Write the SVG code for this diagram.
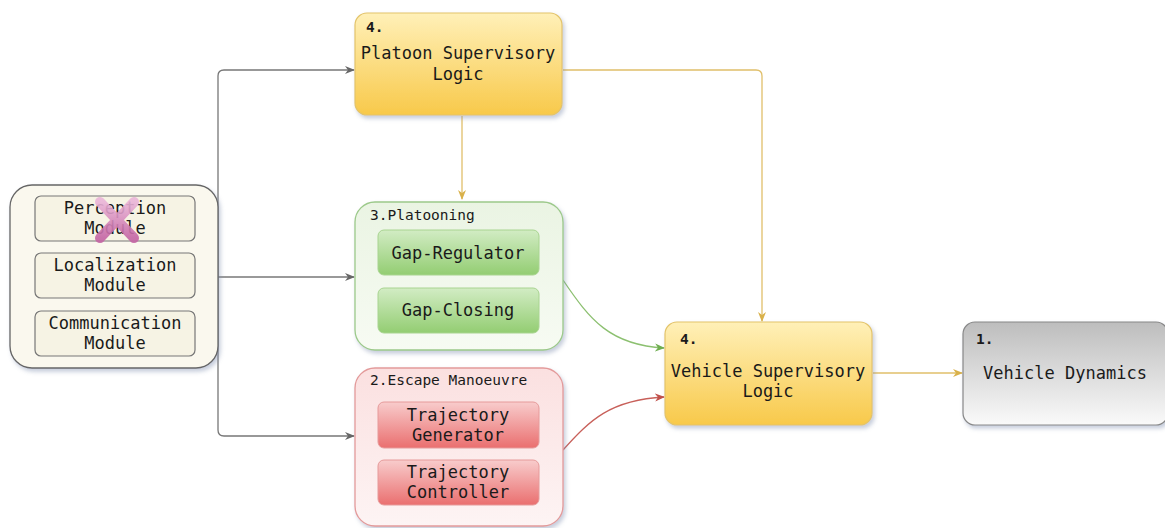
<svg xmlns="http://www.w3.org/2000/svg" width="1165" height="528" viewBox="0 0 1165 528">
<style>
text{font-family:"DejaVu Sans Mono","Liberation Mono",monospace;fill:#1a1a1a;}
.t{font-size:17px;text-anchor:middle;}
.s{font-size:14.5px;}
.c{fill:none;stroke-width:1.3;}
.g{stroke:#777;}
.y{stroke:#e0bf6a;}
.gr{stroke:#8cc070;}
.r{stroke:#c8605a;}
</style>
<defs>
<linearGradient id="yel" x1="0" y1="0" x2="0" y2="1"><stop offset="0" stop-color="#fff0b8"/><stop offset="1" stop-color="#f8c94a"/></linearGradient>
<linearGradient id="gray" x1="0" y1="0" x2="0" y2="1"><stop offset="0" stop-color="#bdbdbd"/><stop offset="1" stop-color="#fafafa"/></linearGradient>
<linearGradient id="grn" x1="0" y1="0" x2="0" y2="1"><stop offset="0" stop-color="#eaf4e3"/><stop offset="1" stop-color="#f7fbf3"/></linearGradient>
<linearGradient id="grnIn" x1="0" y1="0" x2="0" y2="1"><stop offset="0" stop-color="#d2ecc4"/><stop offset="1" stop-color="#93cd72"/></linearGradient>
<linearGradient id="red" x1="0" y1="0" x2="0" y2="1"><stop offset="0" stop-color="#fbe0e0"/><stop offset="1" stop-color="#fdf4f4"/></linearGradient>
<linearGradient id="redIn" x1="0" y1="0" x2="0" y2="1"><stop offset="0" stop-color="#f8cccc"/><stop offset="1" stop-color="#ea6f6f"/></linearGradient>
<linearGradient id="xg" x1="0" y1="0" x2="0" y2="1"><stop offset="0" stop-color="#eab4d8"/><stop offset="1" stop-color="#c464a4"/></linearGradient>
<filter id="sh" x="-10%" y="-10%" width="130%" height="130%"><feDropShadow dx="2" dy="3" stdDeviation="2" flood-color="#8090b0" flood-opacity="0.45"/></filter>
<marker id="ag" markerWidth="10" markerHeight="10" refX="9" refY="5" orient="auto" markerUnits="userSpaceOnUse"><path d="M0,1 L10,5 L0,9 L3,5 Z" fill="#666"/></marker>
<marker id="ay" markerWidth="10" markerHeight="10" refX="9" refY="5" orient="auto" markerUnits="userSpaceOnUse"><path d="M0,1 L10,5 L0,9 L3,5 Z" fill="#d9b14a"/></marker>
<marker id="agr" markerWidth="10" markerHeight="10" refX="9" refY="5" orient="auto" markerUnits="userSpaceOnUse"><path d="M0,1 L10,5 L0,9 L3,5 Z" fill="#6fae50"/></marker>
<marker id="ar" markerWidth="10" markerHeight="10" refX="9" refY="5" orient="auto" markerUnits="userSpaceOnUse"><path d="M0,1 L10,5 L0,9 L3,5 Z" fill="#c0504a"/></marker>
</defs>

<g id="connectors">
<path class="c g" d="M218,277 H354" marker-end="url(#ag)"/>
<path class="c g" d="M218,277 V76 Q218,70 224,70 H354" marker-end="url(#ag)"/>
<path class="c g" d="M218,277 V430 Q218,436 224,436 H354" marker-end="url(#ag)"/>
<path class="c y" d="M462,116 V199" marker-end="url(#ay)"/>
<path class="c y" d="M563,70 H756 Q762,70 762,76 V321" marker-end="url(#ay)"/>
<path class="c gr" d="M563,280 C590,320 610,345 664,348" marker-end="url(#agr)"/>
<path class="c r" d="M563,450 C590,420 610,400 664,397" marker-end="url(#ar)"/>
<path class="c y" d="M873,373 H962" marker-end="url(#ay)"/>
</g>

<g id="sensors">
<rect x="10" y="185" width="208" height="183" rx="22" fill="#faf8ee" stroke="#666" stroke-width="1.3" filter="url(#sh)"/>
<g id="perception">
<rect x="35" y="196" width="160" height="45" rx="6" fill="#f6f3e4" stroke="#777" stroke-width="1.2"/>
<text class="t" x="115" y="214">Perception</text>
<text class="t" x="115" y="234">Module</text>
<path d="M100,202 L134,238 M134,202 L100,238" stroke="url(#xg)" stroke-width="10" stroke-linecap="round" fill="none" opacity="0.9"/>
</g>
<g id="localization">
<rect x="35" y="253" width="160" height="45" rx="6" fill="#f6f3e4" stroke="#777" stroke-width="1.2"/>
<text class="t" x="115" y="271">Localization</text>
<text class="t" x="115" y="291">Module</text>
</g>
<g id="communication">
<rect x="35" y="311" width="160" height="45" rx="6" fill="#f6f3e4" stroke="#777" stroke-width="1.2"/>
<text class="t" x="115" y="329">Communication</text>
<text class="t" x="115" y="349">Module</text>
</g>
</g>

<g id="platoon-supervisory">
<rect x="355" y="13" width="207" height="102" rx="12" fill="url(#yel)" stroke="#e3c46a" stroke-width="1.2" filter="url(#sh)"/>
<text class="s" x="366" y="32" font-weight="bold">4.</text>
<text class="t" x="458" y="59">Platoon Supervisory</text>
<text class="t" x="458" y="80">Logic</text>
</g>

<g id="platooning">
<rect x="355" y="202" width="208" height="148" rx="20" fill="url(#grn)" stroke="#9cc98a" stroke-width="1.3" filter="url(#sh)"/>
<text class="s" x="370" y="220">3.Platooning</text>
<g id="gap-regulator">
<rect x="378" y="230" width="161" height="45" rx="6" fill="url(#grnIn)" stroke="#a8d490" stroke-width="1"/>
<text class="t" x="458" y="259">Gap-Regulator</text>
</g>
<g id="gap-closing">
<rect x="378" y="288" width="161" height="45" rx="6" fill="url(#grnIn)" stroke="#a8d490" stroke-width="1"/>
<text class="t" x="458" y="316">Gap-Closing</text>
</g>
</g>

<g id="escape">
<rect x="355" y="368" width="208" height="158" rx="20" fill="url(#red)" stroke="#e39a9a" stroke-width="1.3" filter="url(#sh)"/>
<text class="s" x="370" y="385">2.Escape Manoeuvre</text>
<g id="traj-gen">
<rect x="378" y="402" width="161" height="46" rx="6" fill="url(#redIn)" stroke="#e69a9a" stroke-width="1"/>
<text class="t" x="458" y="421">Trajectory</text>
<text class="t" x="458" y="441">Generator</text>
</g>
<g id="traj-ctrl">
<rect x="378" y="460" width="161" height="45" rx="6" fill="url(#redIn)" stroke="#e69a9a" stroke-width="1"/>
<text class="t" x="458" y="478">Trajectory</text>
<text class="t" x="458" y="498">Controller</text>
</g>
</g>

<g id="vehicle-supervisory">
<rect x="665" y="322" width="207" height="103" rx="12" fill="url(#yel)" stroke="#e3c46a" stroke-width="1.2" filter="url(#sh)"/>
<text class="s" x="680" y="344" font-weight="bold">4.</text>
<text class="t" x="768" y="377">Vehicle Supervisory</text>
<text class="t" x="768" y="397">Logic</text>
</g>

<g id="vehicle-dynamics">
<rect x="963" y="322" width="205" height="103" rx="12" fill="url(#gray)" stroke="#888" stroke-width="1.2" filter="url(#sh)"/>
<text class="s" x="976" y="344" font-weight="bold">1.</text>
<text class="t" x="1065" y="379">Vehicle Dynamics</text>
</g>
</svg>
